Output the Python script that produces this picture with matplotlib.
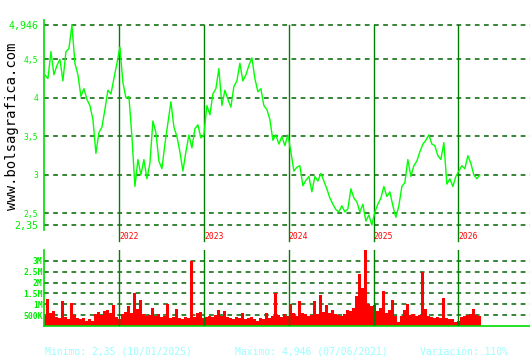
import matplotlib
matplotlib.use("Agg")
import matplotlib.pyplot as plt
import matplotlib.dates as mdates
import matplotlib.transforms as mtransforms
import pandas as pd

# price (EUR) and volume (millions), about every 13 days
price = [
    4.30, 4.25, 4.60, 4.30, 4.42, 4.50, 4.22, 4.60, 4.64, 4.946,
    4.45, 4.30, 4.02, 4.12, 3.98, 3.90, 3.72, 3.28, 3.55, 3.62,
    3.85, 4.10, 4.05, 4.25, 4.45, 4.66, 4.20, 4.00, 4.02, 3.50,
    2.85, 3.20, 3.00, 3.20, 2.95, 3.15, 3.70, 3.55, 3.18, 3.08,
    3.40, 3.68, 3.95, 3.62, 3.50, 3.30, 3.05, 3.30, 3.52, 3.35,
    3.60, 3.65, 3.48, 3.52, 3.90, 3.78, 4.05, 4.12, 4.38, 3.90,
    4.10, 3.98, 3.88, 4.15, 4.22, 4.45, 4.22, 4.30, 4.42, 4.52,
    4.25, 4.08, 4.12, 3.90, 3.85, 3.72, 3.45, 3.52, 3.40, 3.50,
    3.38, 3.52, 3.30, 3.05, 3.10, 3.12, 2.86, 2.93, 2.98, 2.78,
    2.98, 2.92, 3.02, 2.92, 2.82, 2.70, 2.62, 2.55, 2.52, 2.60,
    2.52, 2.56, 2.82, 2.70, 2.65, 2.52, 2.62, 2.40, 2.48, 2.35,
    2.52, 2.62, 2.70, 2.85, 2.72, 2.78, 2.60, 2.45, 2.60, 2.85,
    2.90, 3.20, 2.98, 3.12, 3.18, 3.30, 3.40, 3.45, 3.52, 3.40,
    3.38, 3.25, 3.20, 3.42, 2.88, 2.95, 2.85, 2.98, 3.05, 3.12,
    3.08, 3.25, 3.15, 3.00, 2.95, 3.00,
]
volume = [
    0.45, 1.25, 0.60, 0.70, 0.40, 0.35, 1.15, 0.40, 0.30, 1.05,
    0.50, 0.35, 0.30, 0.35, 0.25, 0.30, 0.25, 0.55, 0.65, 0.50,
    0.70, 0.75, 0.60, 0.95, 0.40, 0.30, 0.55, 0.65, 0.90, 0.60,
    1.50, 0.80, 1.20, 0.55, 0.45, 0.50, 0.85, 0.45, 0.55, 0.40,
    0.45, 1.00, 0.35, 0.40, 0.80, 0.35, 0.30, 0.40, 0.35, 3.00,
    0.40, 0.60, 0.65, 0.35, 0.40, 0.45, 0.40, 0.50, 0.75, 0.45,
    0.70, 0.40, 0.35, 0.30, 0.40, 0.35, 0.60, 0.30, 0.35, 0.40,
    0.30, 0.25, 0.35, 0.30, 0.60, 0.35, 0.45, 1.50, 0.50, 0.40,
    0.55, 0.45, 1.00, 0.60, 0.45, 1.15, 0.60, 0.55, 0.45, 0.50,
    1.15, 0.55, 1.45, 0.65, 0.95, 0.60, 0.75, 0.55, 0.50, 0.45,
    0.55, 0.75, 0.70, 0.85, 1.40, 2.40, 1.75, 3.50, 1.00, 0.90,
    0.95, 0.70, 0.85, 1.60, 0.60, 0.75, 1.20, 0.45, 0.20, 0.45,
    0.75, 1.00, 0.50, 0.55, 0.45, 0.50, 2.50, 0.80, 0.45, 0.40,
    0.35, 0.40, 0.35, 1.30, 0.35, 0.30, 0.30, 0.20, 0.25, 0.40,
    0.45, 0.50, 0.55, 0.80, 0.50, 0.45,
]
price_ticks = [2.35, 2.5, 3, 3.5, 4, 4.5, 4.946]
price_labels = ["2,35", "2,5", "3", "3,5", "4", "4,5", "4,946"]
vol_ticks = [0.5e6, 1e6, 1.5e6, 2e6, 2.5e6, 3e6]
vol_labels = ["500K", "1M", "1.5M", "2M", "2.5M", "3M"]
years = [2022, 2023, 2024, 2025, 2026]

dates = pd.date_range("2021-02-15", "2026-04-03", periods=len(price))
step = (dates[1] - dates[0]).days + (dates[1] - dates[0]).seconds / 86400.0
xlo, xhi = pd.Timestamp("2021-02-11"), pd.Timestamp("2026-11-05")

MONO = "DejaVu Sans Mono"
GRID = "#006400"
YEAR = "#008000"
AXIS = "#00dd00"
LAB = "#00ee00"

fig = plt.figure(figsize=(5.3, 3.6), dpi=100)
fig.patch.set_facecolor("white")

ax = fig.add_axes([44 / 530, 1 - 230 / 360, 486 / 530, 210 / 360])
axv = fig.add_axes([44 / 530, 1 - 326 / 360, 486 / 530, 76 / 360])

# --- price panel ---
for v in price_ticks:
    ax.axhline(v, color=GRID, lw=1.1, ls=(0, (3.1, 2.9)), zorder=1)
for y in years:
    ax.axvline(pd.Timestamp(f"{y}-01-01"), ymin=-0.052, ymax=(230 - 25) / 210,
               color=YEAR, lw=1.0, clip_on=False, zorder=2)
ax.plot(dates, price, color="#00ff00", lw=1.0, zorder=3)
ax.set_xlim(xlo, xhi)
ax.set_ylim(2.35 - 5 / 77, 4.946 + 5 / 77)
ax.set_yticks(price_ticks)
ax.set_yticklabels(price_labels, family=MONO, color=LAB)
for t, lab in zip(ax.get_yticklabels(), price_labels):
    t.set_fontsize(7.2 if lab in ("2,35", "4,946") else 5.8)
ax.tick_params(axis="y", length=0, pad=4)
ax.set_xticks([])
for s in ("top", "right", "bottom"):
    ax.spines[s].set_visible(False)
ax.spines["left"].set_color(AXIS)
ax.spines["left"].set_linewidth(1.2)
ax.patch.set_alpha(0)

trans = mtransforms.blended_transform_factory(ax.transData, ax.transAxes)
for y in years:
    ax.text(pd.Timestamp(f"{y}-01-01"), -0.03, str(y), transform=trans,
            color="#ff0000", fontsize=5.8, family=MONO, ha="left", va="center")

# --- volume panel ---
vol = [v * 1e6 for v in volume]
for v in vol_ticks:
    axv.axhline(v, color=GRID, lw=1.1, ls=(0, (3.1, 2.9)), zorder=1)
axv.bar(dates, vol, width=step, color="#ff0000", linewidth=0, align="center", zorder=2)
for y in years:
    axv.axvline(pd.Timestamp(f"{y}-01-01"), color=YEAR, lw=1.0, zorder=3)
axv.set_xlim(xlo, xhi)
axv.set_ylim(0, 3.5e6)
axv.set_yticks(vol_ticks)
axv.set_yticklabels(vol_labels, family=MONO, color=LAB, fontsize=5.8, fontweight="bold")
axv.tick_params(axis="y", length=0, pad=1)
axv.set_xticks([])
for s in ("top", "right"):
    axv.spines[s].set_visible(False)
for s in ("left", "bottom"):
    axv.spines[s].set_color(AXIS)
    axv.spines[s].set_linewidth(1.2)
axv.patch.set_alpha(0)

# watermark and summary line
fig.text(12 / 530, 1 - 126 / 360, "www.bolsagrafica.com", rotation=90,
         fontsize=10, family=MONO, color="black", ha="center", va="center")
fig.text(45 / 530, 1 - 352 / 360, "Minimo: 2,35 (10/01/2025)", fontsize=7,
         family=MONO, color="#99ffff", ha="left", va="center")
fig.text(235 / 530, 1 - 352 / 360, "Maximo: 4,946 (07/06/2021)", fontsize=7,
         family=MONO, color="#99ffff", ha="left", va="center")
fig.text(420 / 530, 1 - 352 / 360, "Variación: 110%", fontsize=7,
         family=MONO, color="#99ffff", ha="left", va="center")

fig.savefig("out.png", dpi=100)
